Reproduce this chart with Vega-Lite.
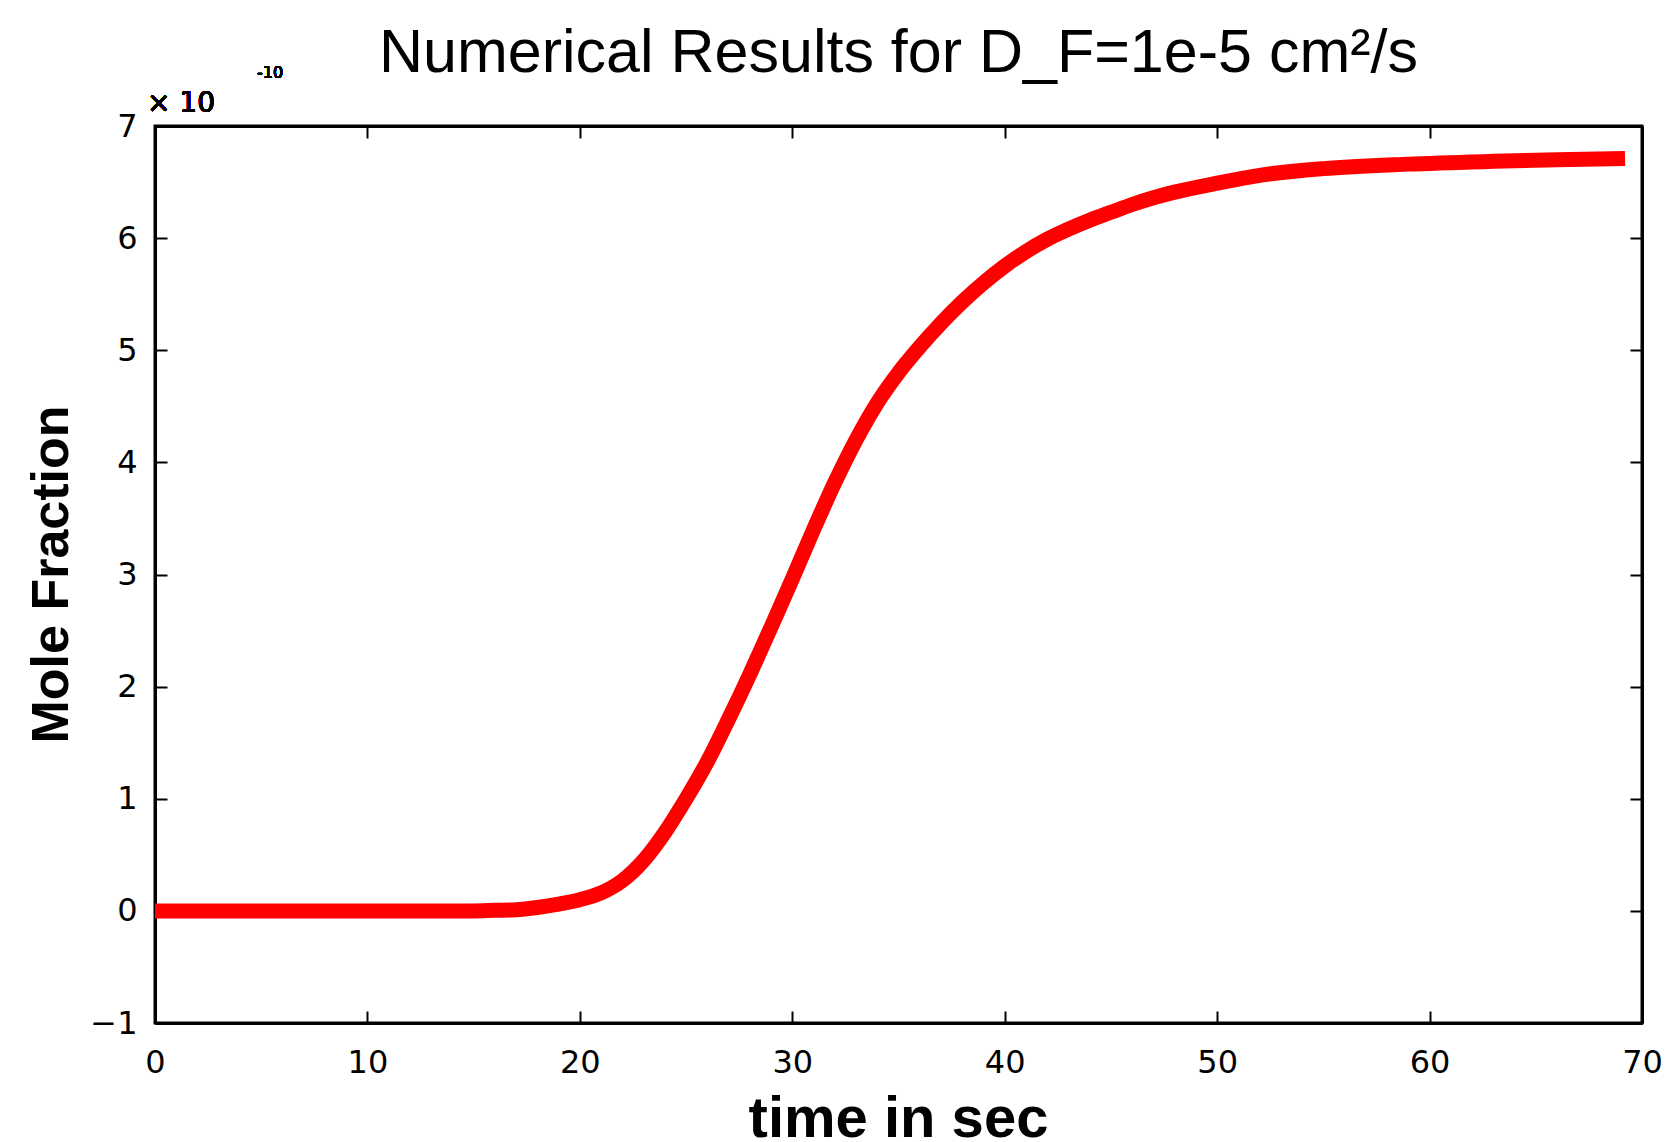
{
  "$schema": "https://vega.github.io/schema/vega-lite/v6.json",
  "width": 1487,
  "height": 897,
  "autosize": {"type": "none"},
  "padding": {"left": 155, "top": 126, "right": 33, "bottom": 119},
  "background": "white",
  "title": {
    "text": "Numerical Results for D_F=1e-5 cm²/s",
    "font": "Liberation Sans",
    "fontSize": 61,
    "fontWeight": "normal",
    "color": "black",
    "anchor": "middle",
    "baseline": "alphabetic",
    "offset": -68
  },
  "config": {
    "view": {"stroke": "black", "strokeWidth": 3},
    "axis": {
      "grid": false,
      "domainColor": "black",
      "domainWidth": 3,
      "tickColor": "black",
      "tickWidth": 2,
      "labelFont": "DejaVu Sans",
      "labelFontSize": 32,
      "labelColor": "black",
      "titleFont": "Liberation Sans",
      "titleFontWeight": "bold",
      "titleColor": "black"
    }
  },
  "data": {
    "values": [
      {"t": 0, "v": 0}, {"t": 5, "v": 0}, {"t": 10, "v": 0}, {"t": 15, "v": 0},
      {"t": 16, "v": 0.005}, {"t": 17, "v": 0.01}, {"t": 18, "v": 0.03}, {"t": 19, "v": 0.06},
      {"t": 20, "v": 0.1}, {"t": 21, "v": 0.16}, {"t": 22, "v": 0.27}, {"t": 23, "v": 0.45},
      {"t": 24, "v": 0.7}, {"t": 25, "v": 1.0}, {"t": 26, "v": 1.33}, {"t": 27, "v": 1.71},
      {"t": 28, "v": 2.11}, {"t": 29, "v": 2.53}, {"t": 30, "v": 2.96}, {"t": 31, "v": 3.4},
      {"t": 32, "v": 3.82}, {"t": 33, "v": 4.2}, {"t": 34, "v": 4.53}, {"t": 35, "v": 4.8},
      {"t": 36, "v": 5.03}, {"t": 37, "v": 5.24}, {"t": 38, "v": 5.43}, {"t": 39, "v": 5.6},
      {"t": 40, "v": 5.75}, {"t": 41, "v": 5.88}, {"t": 42, "v": 5.99}, {"t": 43, "v": 6.08},
      {"t": 44, "v": 6.16}, {"t": 45, "v": 6.23}, {"t": 46, "v": 6.3}, {"t": 47, "v": 6.36},
      {"t": 48, "v": 6.41}, {"t": 50, "v": 6.49}, {"t": 52, "v": 6.56}, {"t": 55, "v": 6.62},
      {"t": 59, "v": 6.66}, {"t": 63, "v": 6.685}, {"t": 66, "v": 6.7}, {"t": 69.2, "v": 6.71}
    ]
  },
  "layer": [
    {
      "mark": {"type": "line", "color": "#ff0000", "strokeWidth": 15, "interpolate": "monotone", "strokeCap": "butt", "clip": true},
      "encoding": {
        "x": {
          "field": "t", "type": "quantitative",
          "scale": {"domain": [0, 70], "nice": false, "zero": false},
          "axis": {
            "orient": "bottom", "values": [0, 10, 20, 30, 40, 50, 60, 70],
            "tickSize": -12, "labelPadding": 36, "labelFlush": false,
            "title": "time in sec", "titleFontSize": 58,
            "titleX": 743, "titleY": 113, "titleBaseline": "alphabetic", "titleAnchor": "middle"
          }
        },
        "y": {
          "field": "v", "type": "quantitative",
          "scale": {"domain": [-1, 7], "nice": false, "zero": false},
          "axis": {
            "orient": "left", "values": [-1, 0, 1, 2, 3, 4, 5, 6, 7], "format": "d",
            "tickSize": -12, "labelPadding": 30, "labelFlush": false,
            "title": "Mole Fraction", "titleFontSize": 52,
            "titleX": -88, "titleY": 448, "titleAngle": -90, "titleBaseline": "alphabetic", "titleAnchor": "middle"
          }
        }
      }
    },
    {
      "mark": {"type": "line", "opacity": 0},
      "encoding": {
        "x": {
          "field": "t", "type": "quantitative",
          "axis": {"orient": "top", "values": [0, 10, 20, 30, 40, 50, 60, 70], "tickSize": -12, "labels": false, "title": null}
        },
        "y": {
          "field": "v", "type": "quantitative",
          "axis": {"orient": "right", "values": [-1, 0, 1, 2, 3, 4, 5, 6, 7], "tickSize": -12, "labels": false, "title": null}
        }
      }
    },
    {
      "mark": {"type": "text", "font": "DejaVu Sans", "fontSize": 28, "color": "black", "align": "left", "baseline": "alphabetic", "dx": -8, "dy": -14},
      "encoding": {
        "x": {"datum": 0, "type": "quantitative", "axis": null},
        "y": {"datum": 7, "type": "quantitative", "axis": null},
        "text": {"value": "× 10"}
      }
    },
    {
      "mark": {"type": "text", "font": "DejaVu Sans", "fontSize": 16, "color": "black", "align": "left", "baseline": "alphabetic", "dx": 102, "dy": -48},
      "encoding": {
        "x": {"datum": 0, "type": "quantitative", "axis": null},
        "y": {"datum": 7, "type": "quantitative", "axis": null},
        "text": {"value": "-10"}
      }
    }
  ],
  "resolve": {"axis": {"x": "independent", "y": "independent"}}
}
